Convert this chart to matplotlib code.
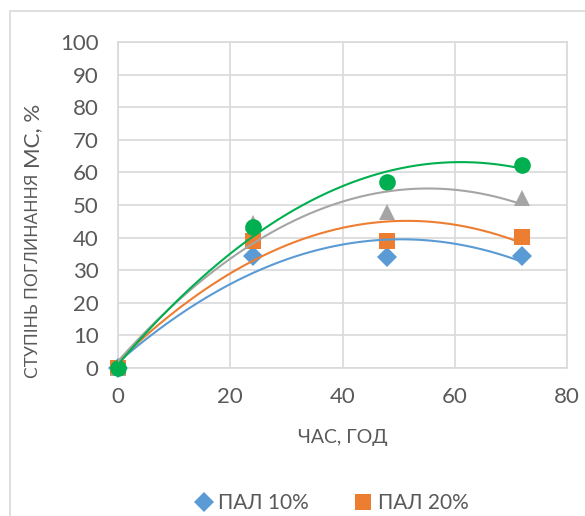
import numpy as np
import matplotlib
matplotlib.use("Agg")
import matplotlib.pyplot as plt
from matplotlib.patches import Rectangle

plt.rcParams['font.family'] = ['Lato', 'DejaVu Sans']

# data
hours = [0, 24, 48, 72]
pal10 = [0, 34.3, 34.2, 34.3]
pal20 = [0, 38.9, 38.9, 40.3]
pal30 = [0, 44.5, 47.8, 52.3]
pal40 = [0, 43.4, 57.2, 62.2]
series_names = ['ПАЛ 10%', 'ПАЛ 20%', 'ПАЛ 30%', 'ПАЛ 40%']

colors = ['#5B9BD5', '#ED7D31', '#A5A5A5', '#00B050']
markers = ['D', 's', '^', 'o']
msizes = [10, 12, 12, 12]
txt = '#595959'
grid = '#D9D9D9'

W, H = 585, 516
fig = plt.figure(figsize=(W / 100, H / 100), dpi=100)
ax = fig.add_axes([118 / W, 1 - 368 / H, (567 - 118) / W, (368 - 42) / H])

# chart area border (runs off the right and bottom edge)
fig.patches.append(Rectangle((10 / W, -0.1), 1.2, 1 - 11 / H + 0.1,
                             transform=fig.transFigure, fill=False,
                             edgecolor=grid, lw=1.2))

handles = []
xs = np.linspace(0, 72, 200)
for vals, c, m, ms, name in zip([pal10, pal20, pal30, pal40], colors, markers, msizes, series_names):
    h, = ax.plot(hours, vals, linestyle='none', marker=m, color=c, markersize=ms,
                 markeredgewidth=0, zorder=3, clip_on=False)
    handles.append(h)
    # second order trendline like excel
    p = np.polyfit(hours, vals, 2)
    ax.plot(xs, np.polyval(p, xs), color=c, lw=1.5, zorder=4)

ax.set_xlim(0, 80)
ax.set_ylim(0, 100)
ax.set_xticks(range(0, 81, 20))
ax.set_yticks(range(0, 101, 10))
ax.grid(True, color=grid, lw=1.2)
ax.set_axisbelow(True)
for s in ax.spines.values():
    s.set_color(grid)
    s.set_linewidth(1.2)
ax.tick_params(length=0, labelsize=16, labelcolor=txt)
ax.tick_params(axis='x', pad=14)
ax.tick_params(axis='y', pad=14)

fig.text(343 / W, 1 - 438 / H, 'ЧАС, ГОД', ha='center', va='center', fontsize=14, color=txt)

# y label: second part written in a bigger font, placed right after the first
t1 = fig.text(33 / W, 1 - 378 / H, 'СТУПІНЬ ПОГЛИНАННЯ', rotation=90, ha='center', va='bottom',
              fontsize=12.5, color=txt)
fig.canvas.draw()
top = t1.get_window_extent().y1
fig.text(33 / W, (top + 6) / H, 'МС, %', rotation=90, ha='center', va='bottom',
         fontsize=16, color=txt)

fig.legend(handles[:2], series_names[:2], loc='center', bbox_to_anchor=(330 / W, 1 - 503 / H),
           ncol=2, frameon=False, fontsize=15, labelcolor=txt, handletextpad=0.1,
           columnspacing=2.0, handlelength=1.2)

fig.savefig('out.png', dpi=100)
